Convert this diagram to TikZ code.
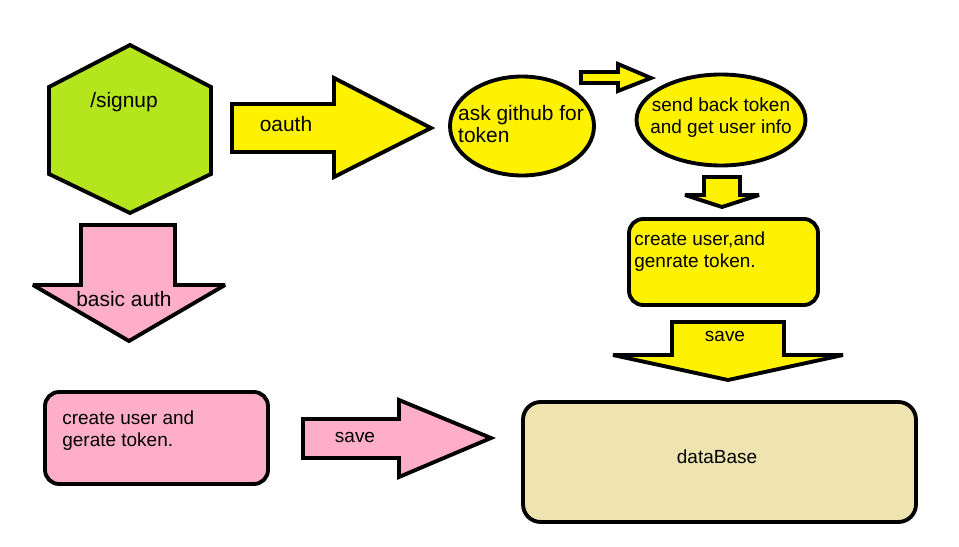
\documentclass[tikz,border=0pt]{standalone}
\usepackage{fontspec}
\setmainfont{Liberation Sans}
\usepackage{tikz}
\usetikzlibrary{shapes,positioning}

\definecolor{pyellow}{HTML}{FFF200}
\definecolor{ppink}{HTML}{FFAEC9}
\definecolor{plime}{HTML}{B5E61D}
\definecolor{ptan}{HTML}{EFE4B0}

\begin{document}
\begin{tikzpicture}[
    x=0.02cm, y=-0.02cm,
    shp/.style={draw=black, line width=2.2pt, line join=miter, miter limit=3},
    box/.style={shp, rectangle, rounded corners=8pt, inner sep=0pt},
    oval/.style={shp, ellipse, inner sep=0pt},
    txt/.style={font=\fontsize{10.8}{12.5}\selectfont, align=left, inner sep=0pt},
    big/.style={font=\fontsize{11.9}{13}\selectfont}
]
\useasboundingbox (0,0) rectangle (959,547);

\draw[shp, fill=plime] (130,45) -- (211,87) -- (211,174) -- (130,213) -- (49,174) -- (49,87) -- cycle;
\node[txt, big] (signup) at (124,102) {/signup};

\draw[shp, fill=pyellow] (232,104) -- (334,104) -- (334,78) -- (431,128) -- (334,177) -- (334,152) -- (232,152) -- cycle;
\node[txt, big] (oauth) at (286,124) {oauth};

\node[oval, fill=pyellow, minimum width=2.88cm, minimum height=1.98cm] (askOval) at (522,126) {};
\node[txt, big] (ask) at (521,124) {ask github for\\token};

\draw[shp, fill=pyellow] (581,72) -- (618,72) -- (618,64) -- (651,78) -- (618,91) -- (618,83) -- (581,83) -- cycle;

\node[oval, fill=pyellow, minimum width=3.38cm, minimum height=1.82cm] (sendOval) at (721,120) {};
\node[txt, align=center] (send) at (721,118) {send back token\\ and get user info};

\draw[shp, fill=pyellow] (704,177) -- (740,177) -- (740,195) -- (759,195) -- (722,207) -- (685,195) -- (704,195) -- cycle;

\node[box, fill=pyellow, minimum width=3.78cm, minimum height=1.72cm] (createBox) at (723.5,262) {};
\node[txt, anchor=north west] (create) at (634,231) {create user,and\\genrate token.};

\draw[shp, fill=pyellow] (672,322) -- (784,322) -- (784,355) -- (843,355) -- (728,380) -- (613,355) -- (672,355) -- cycle;
\node[txt] (saveA) at (725,336) {save};

\draw[shp, fill=ppink] (81,225) -- (175,225) -- (175,285) -- (225,285) -- (129,341) -- (33,285) -- (81,285) -- cycle;
\node[txt, big] (basic) at (124,299) {basic auth};

\node[box, fill=ppink, minimum width=4.46cm, minimum height=1.84cm] (pinkBox) at (156.5,438) {};
\node[txt, anchor=north west] (createB) at (62,410) {create user and\\gerate token.};

\draw[shp, fill=ppink] (303,419) -- (399,419) -- (399,400) -- (491,438) -- (399,477) -- (399,458) -- (303,458) -- cycle;
\node[txt] (saveB) at (355,437) {save};

\node[box, fill=ptan, rounded corners=10pt, minimum width=7.86cm, minimum height=2.4cm] (dbBox) at (719.5,462) {};
\node[txt] (db) at (717,457) {dataBase};

\end{tikzpicture}
\end{document}
